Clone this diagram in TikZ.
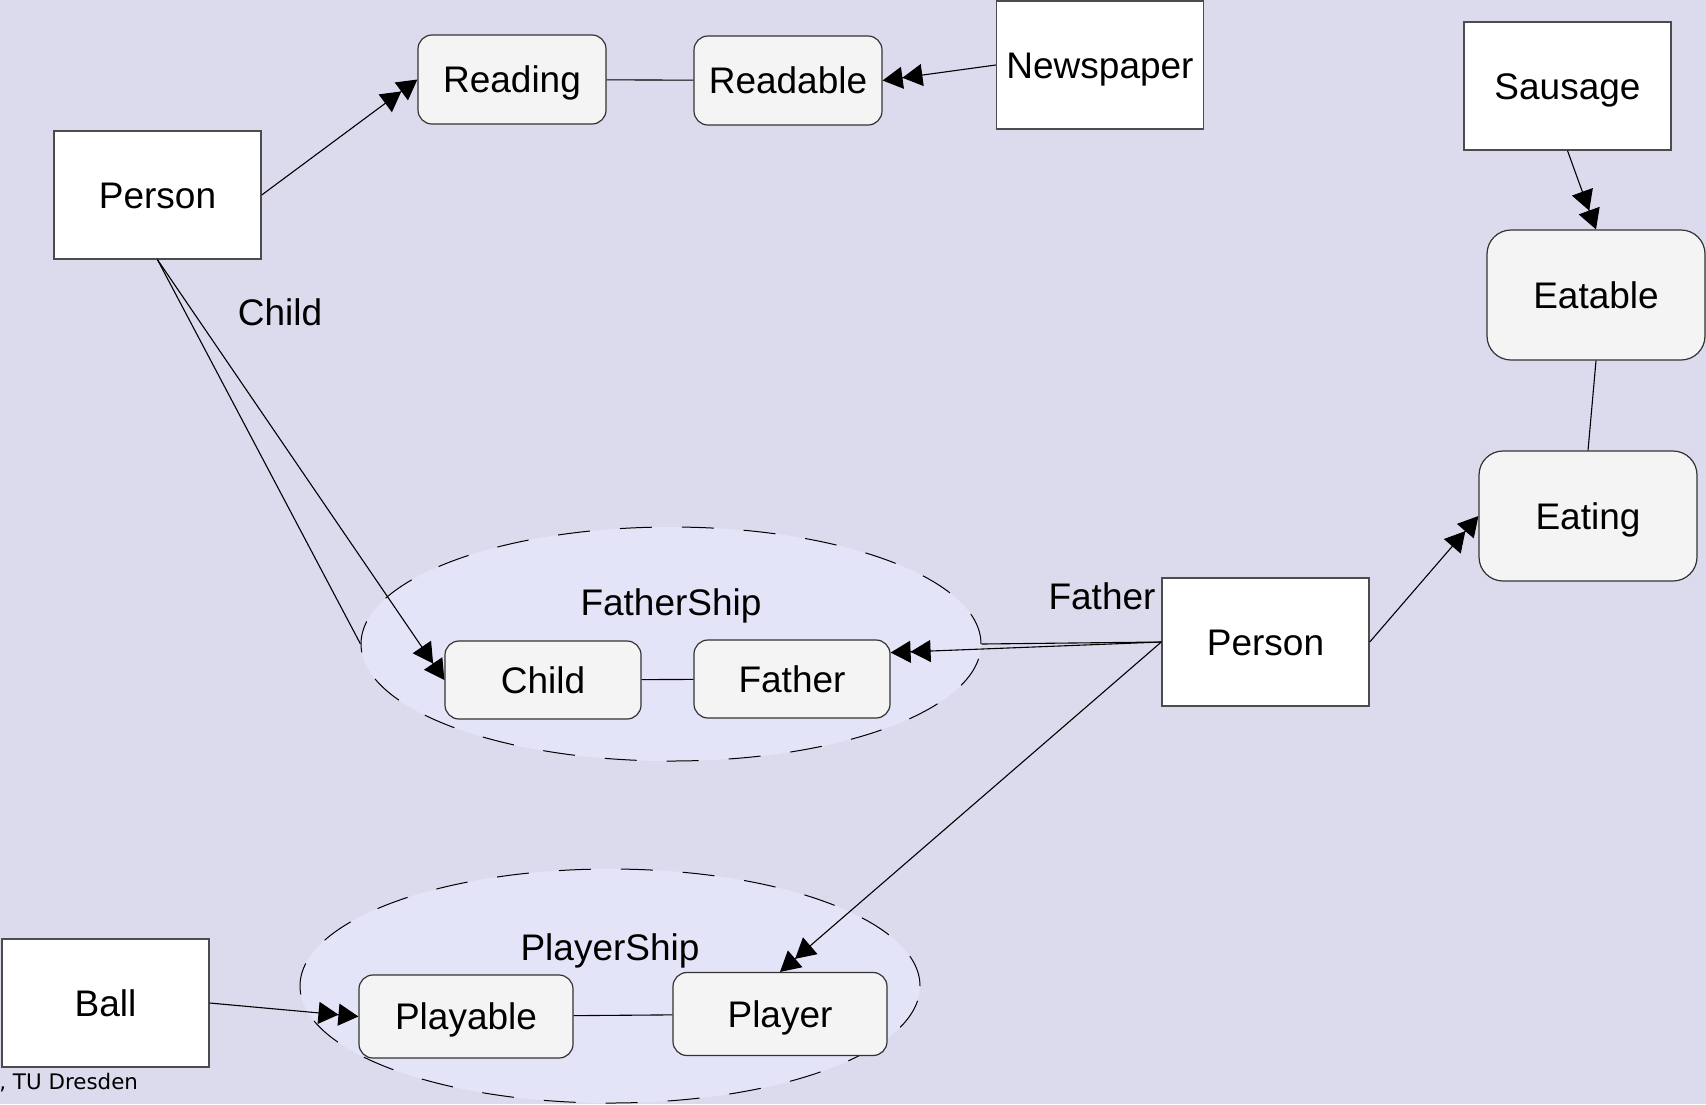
\documentclass[tikz,border=0pt]{standalone}
\usepackage{fontspec}
\setmainfont{Liberation Sans}
\newfontfamily\creditfont{DejaVu Sans}
\usetikzlibrary{shapes.geometric,arrows.meta}
\definecolor{backlav}{HTML}{DCDBED}
\definecolor{shiplav}{HTML}{E4E4F8}
\definecolor{rolegray}{HTML}{F4F4F4}

\begin{document}
\begin{tikzpicture}[% one unit is one pixel of the reference
			x=0.5pt,y=-0.5pt,
			every node/.style={
				align=center,
				inner sep=0pt,
				text height=13.25pt,	% caps centred in the box, whatever the descenders
				text depth=0pt,
				font=\fontsize{18.5}{22}\selectfont
			},
			natural/.style={rectangle,draw=black!70,line width=0.7pt,fill=white,minimum width=103.5pt,minimum height=64pt},
			role/.style={rectangle,rounded corners=7pt,draw=black!80,line width=0.6pt,fill=rolegray},
			bigrole/.style={role,rounded corners=12pt,minimum width=109pt,minimum height=65pt},
			ship/.style={ellipse,draw=black,line width=0.5pt,dash pattern=on 16pt off 15pt,fill=shiplav,minimum width=310pt,minimum height=117pt},
			fills/.style={-{Triangle[length=10pt,width=11pt]Triangle[length=10pt,width=11pt]}},
			every edge/.style={draw,line width=0.55pt}
		]
		\fill[backlav] (0,0) rectangle (1706,1104);
		\useasboundingbox (0,0) rectangle (1706,1104);
		% compartments
		\node[ship](fathership) at (671,644) {};
		\node[ship](playership) at (610,986) {};
		\node(fathershiplabel) at (671,602) {FatherShip};
		\node(playershiplabel) at (610,947) {PlayerShip};
		% naturals
		\node[natural](personA) at (157.5,195) {Person};
		\node[natural](personB) at (1265.5,642) {Person};
		\node[natural](newspaper) at (1100,65) {Newspaper};
		\node[natural](sausage) at (1567.5,86) {Sausage};
		\node[natural](ball) at (105.5,1003) {Ball};
		% roles
		\node[role,minimum width=94pt,minimum height=44.5pt](reading) at (512,79.5) {Reading};
		\node[role,minimum width=94pt,minimum height=44.5pt](readable) at (788,80.5) {Readable};
		\node[bigrole](eatable) at (1596,295) {Eatable};
		\node[bigrole](eating) at (1588,516) {Eating};
		\node[role,minimum width=98pt,minimum height=39pt](child) at (543,680) {Child};
		\node[role,minimum width=98pt,minimum height=39pt](father) at (792,679) {Father};
		\node[role,minimum width=107pt,minimum height=41.5pt](playable) at (466,1016.5) {Playable};
		\node[role,minimum width=107pt,minimum height=41.5pt](player) at (780,1014) {Player};
		% labels
		\node(childlabel) at (280,312) {Child};
		\node(fatherlabel) at (1102,596) {Father};
		\node[anchor=base west,text height=,text depth=,font=\creditfont\fontsize{10.7}{13}\selectfont](credit) at (-1,1089) {, TU Dresden};
		\path
		(reading)edge []	node [] {} (readable)
		(eatable.south)edge []	node [] {} (eating.north)
		(child)edge []	node [] {} (father)
		(playable)edge []	node [] {} (player)
		(personA.south)edge []	node [] {} (fathership.west)
		(personB.west)edge []	node [] {} (fathership.east)
		;
		\path[fills]
		(personA.east)edge []	node [] {} (reading.west)
		(newspaper.west)edge []	node [] {} (readable.east)
		(sausage.south)edge []	node [] {} (eatable.north)
		(personB.east)edge []	node [] {} (eating.west)
		(personB.west)edge []	node [] {} (father.15)
		(personB.west)edge []	node [] {} (player.north)
		(personA.south)edge []	node [] {} (child.west)
		(ball.east)edge []	node [] {} (playable.west)
		;
	\end{tikzpicture}
\end{document}
